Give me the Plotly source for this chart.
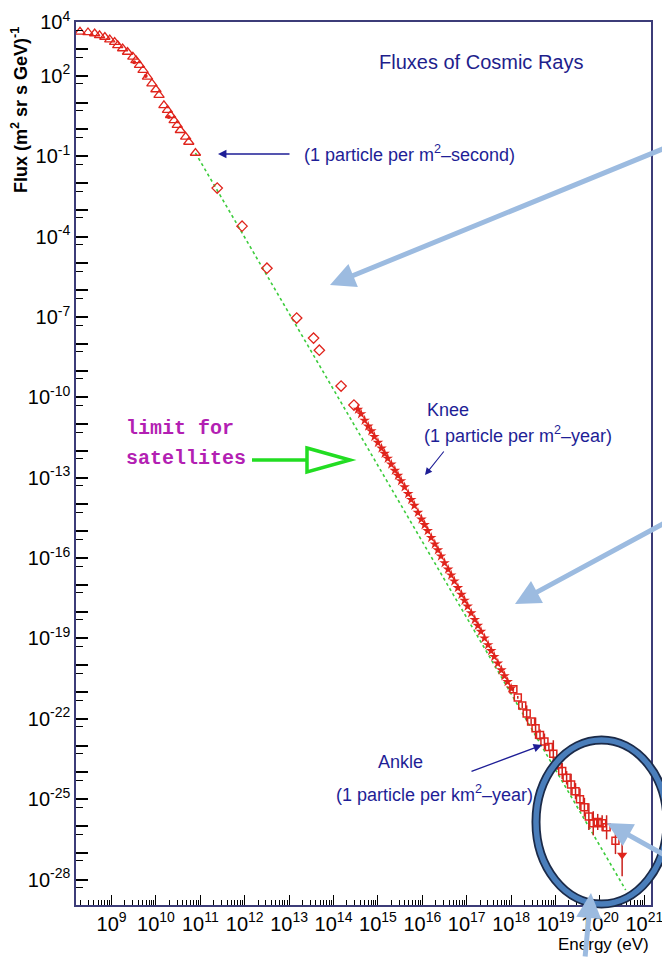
import plotly.graph_objects as go

# ---------------- data (log10 energy [eV], log10 flux) ----------------
tri_logE = [8.29, 8.47, 8.62, 8.73, 8.85, 8.96, 9.07, 9.14, 9.25, 9.36, 9.48, 9.55, 9.63, 9.71,
            9.81, 9.91, 10.00, 10.07, 10.18, 10.26, 10.33, 10.41, 10.48, 10.55, 10.67, 10.74, 10.89]
tri_logF = [3.64, 3.62, 3.58, 3.51, 3.45, 3.35, 3.26, 3.14, 3.02, 2.89, 2.71, 2.58, 2.40, 2.21,
            1.96, 1.71, 1.49, 1.28, 0.90, 0.72, 0.53, 0.34, 0.16, -0.03, -0.28, -0.47, -0.88]

dot_logE = [9.51, 9.77, 10.29]
dot_logF = [2.51, 1.99, 0.46]

dia_logE = [11.38, 11.94, 12.50, 13.17, 13.55, 13.68, 14.17, 14.46]
dia_logF = [-2.19, -3.61, -5.18, -7.04, -7.79, -8.24, -9.58, -10.29]

knee_logE = [14.55, 14.62, 14.70, 14.78, 14.85, 14.92, 15.00, 15.08, 15.15, 15.22, 15.30, 15.38,
             15.45, 15.52, 15.60, 15.68, 15.75, 15.82, 15.90, 15.98, 16.05, 16.12, 16.20, 16.28,
             16.35, 16.42, 16.50, 16.58, 16.65, 16.72, 16.80, 16.88, 16.95, 17.02, 17.10, 17.18,
             17.25, 17.32, 17.40, 17.48, 17.55, 17.62, 17.70, 17.78, 17.85, 17.92, 18.00]
knee_logF = [-10.45, -10.62, -10.86, -11.08, -11.26, -11.47, -11.69, -11.90, -12.10, -12.28, -12.50, -12.73,
             -12.92, -13.12, -13.35, -13.60, -13.82, -14.04, -14.30, -14.55, -14.76, -14.98, -15.24, -15.48,
             -15.70, -15.93, -16.18, -16.42, -16.64, -16.86, -17.11, -17.36, -17.58, -17.80, -18.05, -18.30,
             -18.52, -18.74, -18.99, -19.24, -19.46, -19.68, -19.93, -20.18, -20.40, -20.62, -20.86]

ank_logE = [18.05, 18.15, 18.25, 18.35, 18.45, 18.55, 18.65, 18.75, 18.85, 18.95, 19.05, 19.15,
            19.25, 19.35, 19.45, 19.55, 19.65, 19.75, 19.85, 19.95, 20.05, 20.15, 20.35]
ank_logF = [-20.90, -21.20, -21.50, -21.80, -22.10, -22.35, -22.60, -22.85, -23.05, -23.30, -23.70, -23.95,
            -24.20, -24.45, -24.70, -25.00, -25.30, -25.65, -25.90, -25.85, -25.90, -26.05, -26.55]
ank_err = [0.05, 0.05, 0.10, 0.30, 0.10, 0.40, 0.20, 0.30, 0.15, 0.50, 0.20, 0.30,
           0.25, 0.40, 0.30, 0.40, 0.35, 0.50, 0.45, 0.30, 0.30, 0.45, 0.50]

last_logE = [20.50]
last_logF = [-27.08]
last_err_up = [0.55]
last_err_dn = [0.80]

fit_logE = [10.89, 20.58]
fit_logF = [-0.88, -28.39]

x_tick_exp = list(range(9, 22))
y_tick_exp = [4, 2, -1, -4, -7, -10, -13, -16, -19, -22, -25, -28]

RED = "#e0241c"


def p10(v):
    return [10.0 ** a for a in v]


fig = go.Figure()

fig.add_trace(go.Scatter(x=p10(fit_logE), y=p10(fit_logF), mode="lines",
                         line=dict(color="#3ccc3c", width=1.6, dash="dot"), showlegend=False))
fig.add_trace(go.Scatter(x=p10(tri_logE), y=p10(tri_logF), mode="markers",
                         marker=dict(symbol="triangle-up-open", size=9, color=RED, line=dict(width=1.3, color=RED)),
                         showlegend=False))
fig.add_trace(go.Scatter(x=p10(dot_logE), y=p10(dot_logF), mode="markers",
                         marker=dict(symbol="circle", size=4, color=RED), showlegend=False))
fig.add_trace(go.Scatter(x=p10(dia_logE), y=p10(dia_logF), mode="markers",
                         marker=dict(symbol="diamond-open", size=8, color=RED, line=dict(width=1.3, color=RED)),
                         showlegend=False))
fig.add_trace(go.Scatter(x=p10(knee_logE), y=p10(knee_logF), mode="markers",
                         marker=dict(symbol="star", size=8, color=RED), showlegend=False))

ank_F = p10(ank_logF)
fig.add_trace(go.Scatter(
    x=p10(ank_logE), y=ank_F, mode="markers",
    marker=dict(symbol="square-open", size=7, color=RED, line=dict(width=1.5, color=RED)),
    error_y=dict(type="data", symmetric=False,
                 array=[10.0 ** (f + e) - 10.0 ** f for f, e in zip(ank_logF, ank_err)],
                 arrayminus=[10.0 ** f - 10.0 ** (f - e) for f, e in zip(ank_logF, ank_err)],
                 color="#c8201c", thickness=1.5, width=0),
    showlegend=False))
fig.add_trace(go.Scatter(
    x=p10(last_logE), y=p10(last_logF), mode="markers",
    marker=dict(symbol="triangle-down", size=9, color=RED),
    error_y=dict(type="data", symmetric=False,
                 array=[10.0 ** (f + e) - 10.0 ** f for f, e in zip(last_logF, last_err_up)],
                 arrayminus=[10.0 ** f - 10.0 ** (f - e) for f, e in zip(last_logF, last_err_dn)],
                 color="#c8201c", thickness=1.5, width=0),
    showlegend=False))

# ---------------- axes ----------------
FRAME = "#3c3c78"
TICKFONT = dict(family="Liberation Sans, Arial, sans-serif", size=20, color="black")
x_minor = [m * 10.0 ** n for n in range(8, 21) for m in range(2, 10)]
y_major = [10.0 ** n for n in range(-29, 5)]
y_text = [("10<sup>%d</sup>" % n if n in y_tick_exp else "") for n in range(-29, 5)]
y_minor = [5 * 10.0 ** n for n in range(-30, 4)]

fig.update_xaxes(type="log", range=[8.2, 21.15], showgrid=False, zeroline=False, automargin=False,
                 showline=True, linecolor=FRAME, linewidth=1.5, mirror=True,
                 tickmode="array", tickvals=[10.0 ** n for n in x_tick_exp],
                 ticktext=["10<sup>%d</sup>" % n for n in x_tick_exp], ticklabeloverflow="allow",
                 ticks="inside", ticklen=10, tickwidth=1.3, tickcolor="black", tickfont=TICKFONT,
                 minor=dict(tickmode="array", tickvals=x_minor, ticks="inside", ticklen=5,
                            tickwidth=1, tickcolor="black", showgrid=False))
fig.update_yaxes(type="log", range=[-28.95, 4.01], showgrid=False, zeroline=False, automargin=False,
                 showline=True, linecolor=FRAME, linewidth=1.5, mirror=True,
                 tickmode="array", tickvals=y_major, ticktext=y_text, ticklabeloverflow="allow",
                 ticks="inside", ticklen=12, tickwidth=1.5, tickcolor="black", tickfont=TICKFONT,
                 minor=dict(tickmode="array", tickvals=y_minor, ticks="inside", ticklen=7,
                            tickwidth=1.2, tickcolor="black", showgrid=False))

# ---------------- page-pixel helpers for decorations ----------------
PAGE_W, PAGE_H = 670, 958
BODY = 8  # browser default body margin around the figure div
L, R, T, B = 76, 651, 22, 905  # plot area in page pixels


def fx(px):
    return (px - L) / (R - L)


def fy(py):
    return (B - py) / (B - T)


NAVY = "#1e1e96"
TXT = "Liberation Sans, Arial, sans-serif"
ann = []


def text(s, px, py, size, color, xanchor="left", family=TXT, angle=0):
    ann.append(dict(text=s, x=fx(px), y=fy(py), xref="paper", yref="paper", showarrow=False,
                    xanchor=xanchor, yanchor="middle", textangle=angle,
                    font=dict(family=family, size=size, color=color)))


def arrow(hx, hy, tx, ty, color, width, head=2, size=1.0):
    ann.append(dict(text="", x=fx(hx), y=fy(hy), xref="paper", yref="paper",
                    ax=tx - hx, ay=ty - hy, axref="pixel", ayref="pixel", showarrow=True,
                    arrowhead=head, arrowsize=size, arrowwidth=width, arrowcolor=color, standoff=0))


text("Fluxes of Cosmic Rays", 481, 62, 20, "#1e1e8c", xanchor="center")
text("<b>Flux (m<sup>2</sup> sr s GeV)<sup>-1</sup></b>", 19, 110, 18, "black", xanchor="center", angle=-90)
ann.append(dict(text="Energy (eV)", x=fx(651), y=fy(945), xref="paper", yref="paper", showarrow=False,
                xanchor="right", yanchor="middle", font=dict(family=TXT, size=17, color="black")))

text("(1 particle per m<sup>2</sup>\u2013second)", 302, 153, 18, NAVY)
arrow(218, 154, 291, 154, NAVY, 1.3, head=2, size=1.3)

text("Knee", 425, 410, 18, NAVY)
text("(1 particle per m<sup>2</sup>\u2013year)", 422, 434, 18, NAVY)
arrow(425, 475, 445, 450, NAVY, 1.1, head=2, size=1.3)

text("Ankle", 400, 762, 18, NAVY, xanchor="center")
text("(1 particle per km<sup>2</sup>\u2013year)", 334, 793, 18, NAVY)
arrow(542, 745, 470, 772, NAVY, 1.3, head=2, size=1.3)

text("<b>limit for</b>", 124, 428, 20, "#b31fb3", family="Liberation Mono, Courier New, monospace")
text("<b>satellites</b>", 124, 459, 20, "#b31fb3", family="Liberation Mono, Courier New, monospace")

LB = "#9cbbe0"
arrow(330, 285, 672, 146, LB, 5, head=2, size=1.0)
arrow(515, 604, 672, 520, LB, 5, head=2, size=1.0)
arrow(607, 823, 672, 858, LB, 5, head=2, size=1.0)
arrow(591, 893, 585, 962, LB, 5, head=2, size=1.0)

shapes = [
    dict(type="line", xref="paper", yref="paper", x0=fx(252), x1=fx(308), y0=fy(460), y1=fy(460),
         line=dict(color="#22dd22", width=3.5)),
    dict(type="path", xref="paper", yref="paper",
         path="M %f,%f L %f,%f L %f,%f Z" % (fx(307), fy(448), fx(350), fy(460), fx(307), fy(472)),
         line=dict(color="#22dd22", width=3.5), fillcolor="rgba(0,0,0,0)"),
    dict(type="circle", xref="paper", yref="paper", x0=fx(536), x1=fx(667), y0=fy(904), y1=fy(740),
         line=dict(color="#1b2a48", width=9)),
    dict(type="circle", xref="paper", yref="paper", x0=fx(536), x1=fx(667), y0=fy(904), y1=fy(740),
         line=dict(color="#4a7ebb", width=5.5)),
]

fig.update_layout(width=PAGE_W - BODY, height=PAGE_H - BODY,
                  margin=dict(l=L - BODY, r=PAGE_W - R, t=T - BODY, b=PAGE_H - B, autoexpand=False),
                  paper_bgcolor="white", plot_bgcolor="white", showlegend=False,
                  annotations=ann, shapes=shapes)

fig.write_html("out.html")
